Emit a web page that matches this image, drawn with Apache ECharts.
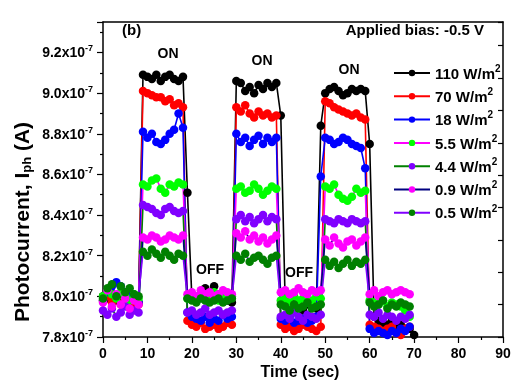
<!DOCTYPE html>
<html><head><meta charset="utf-8">
<script src="https://cdn.jsdelivr.net/npm/echarts@6/dist/echarts.min.js"></script>
<style>html,body{margin:0;padding:0;background:#fff}#c{width:511px;height:383px}</style>
</head><body><div id="c"></div>
<script>
// Time in seconds; photocurrent values in units of 1e-7 A
const time = [0,1,2,3,4,5,6,7,8,9,10,11,12,13,14,15,16,17,18,19,20,21,22,23,24,25,26,27,28,29,30,31,32,33,34,35,36,37,38,39,40,41,42,43,44,45,46,47,48,49,50,51,52,53,54,55,56,57,58,59,60,61,62,63,64,65,66,67,68,69,70];
const intensities = ['110','70','18','5.5','4.4','0.9','0.5'];

const i110 = [8.00,7.99,8.01,7.98,8.00,8.02,7.99,7.98,7.97,
  9.09,9.08,9.07,9.09,9.06,9.08,9.09,9.07,9.06,9.08, 8.51,
  7.99,7.98,8.00,8.04,8.02,8.05,8.01,7.99,7.98,7.97,
  9.06,9.05,9.01,9.03,9.00,9.04,9.02,9.05,9.03,9.05, 8.89,
  7.96,7.94,7.97,7.95,7.93,7.96,7.95,7.94, 8.84,
  9.00,9.02,9.03,9.01,8.99,9.00,9.02,9.01,9.02,9.01, 8.75,
  7.90,7.88,7.87,7.86,7.88,7.85,7.86,7.84,7.84,7.81];
const i70 = [7.98,8.00,7.97,7.99,7.96,7.98,7.97,7.95,7.96,
  9.01,9.00,8.99,8.98,8.98,8.96,8.97,8.94,8.95,8.93,
  7.88,7.86,7.85,7.87,7.84,7.85,7.86,7.84,7.85,7.87,7.86,
  8.93,8.91,8.94,8.90,8.88,8.91,8.89,8.90,8.88,8.89,
  7.86,7.84,7.85,7.83,7.84,7.86,7.85,7.84,7.83,7.85,
  8.96,8.95,8.93,8.92,8.91,8.90,8.89,8.90,8.88,8.87,
  7.86,7.85,7.84,7.83,7.84,7.85,7.82,7.81,7.84,7.85];
const i18 = [7.98,8.02,8.05,8.07,8.05,8.02,8.00,7.99,7.97,
  8.81,8.78,8.80,8.76,8.75,8.77,8.80,8.82,8.90,8.83,
  7.92,7.90,7.89,7.88,7.90,7.87,7.89,7.88,7.91,7.89,7.90,
  8.80,8.76,8.78,8.74,8.77,8.79,8.75,8.78,8.76,8.78,
  7.89,7.88,7.90,7.87,7.88,7.89,7.87,7.88,7.90, 8.59,
  8.78,8.77,8.75,8.76,8.78,8.77,8.75,8.74,8.73, 8.63,
  7.84,7.82,7.83,7.82,7.81,7.83,7.82,7.84,7.83,7.85];
const i5p5 = [8.00,8.03,8.01,7.99,8.02,8.00,7.98,8.01,7.99,
  8.55,8.54,8.57,8.58,8.53,8.51,8.55,8.54,8.56,8.55,
  7.99,8.00,7.98,8.01,7.99,8.00,8.02,7.98,7.99,8.01,8.00,
  8.53,8.54,8.51,8.52,8.55,8.53,8.50,8.52,8.54,8.53,
  7.98,7.99,7.97,8.00,7.98,7.99,7.97,7.98,8.00,7.99,
  8.54,8.53,8.55,8.50,8.48,8.47,8.49,8.53,8.51,8.52,
  7.98,7.97,7.96,7.98,7.95,7.97,7.96,7.95,7.93,7.90];
const i4p4 = [7.93,7.91,7.94,7.90,7.92,7.95,7.91,7.93,7.92,
  8.45,8.44,8.43,8.41,8.40,8.43,8.44,8.42,8.41,8.42,
  7.92,7.93,7.91,7.92,7.94,7.91,7.92,7.93,7.91,7.92,7.93,
  8.38,8.40,8.37,8.39,8.36,8.38,8.40,8.37,8.39,8.38,
  7.90,7.91,7.89,7.92,7.90,7.88,7.91,7.90,7.89,7.91,
  8.38,8.37,8.36,8.38,8.37,8.36,8.38,8.37,8.36,8.37,
  7.91,7.90,7.92,7.89,7.91,7.90,7.88,7.90,7.89,7.91];
const i0p9 = [7.97,8.03,7.95,8.01,7.96,7.99,7.94,7.98,7.96,
  8.29,8.28,8.30,8.29,8.27,8.28,8.30,8.29,8.28,8.30,
  8.01,8.02,8.00,8.03,8.01,8.02,8.00,8.01,8.03,8.02,8.01,
  8.31,8.29,8.32,8.28,8.30,8.27,8.29,8.26,8.28,8.30,
  8.02,8.03,8.01,8.02,8.04,8.02,8.01,8.03,8.02,8.03,
  8.28,8.25,8.29,8.26,8.24,8.27,8.28,8.25,8.27,8.29,
  8.01,8.03,8.00,8.02,8.03,8.01,8.02,8.03,8.02,8.01];
const i0p5 = [7.99,8.04,8.06,8.00,8.05,8.02,8.04,8.01,8.00,
  8.22,8.20,8.23,8.21,8.19,8.22,8.20,8.18,8.21,8.20,
  7.99,7.98,7.97,7.99,7.98,7.97,7.98,7.99,7.97,7.98,7.99,
  8.20,8.18,8.21,8.17,8.19,8.20,8.18,8.16,8.19,8.20,
  7.96,7.95,7.93,7.96,7.94,7.95,7.97,7.94,7.95,7.96,
  8.18,8.15,8.17,8.14,8.16,8.18,8.15,8.17,8.16,8.18,
  7.97,7.95,7.96,7.98,7.94,7.96,7.95,7.97,7.96,7.95];
const seriesValues = [i110, i70, i18, i5p5, i4p4, i0p9, i0p5];

const yTickLabels = [7.8, 8.0, 8.2, 8.4, 8.6, 8.8, 9.0, 9.2];
const xTickLabels = [0, 10, 20, 30, 40, 50, 60, 70, 80, 90];

const lineColors = ['#000000','#ff0000','#0000ff','#ff00ff','#008000','#000080','#8000ff'];
const markerColors = ['#000000','#ff0000','#0000ff','#00ff00','#8000ff','#ff00ff','#008000'];

const FF = '"Liberation Sans", Arial, sans-serif';
const chart = echarts.init(document.getElementById('c'), null, {renderer:'canvas'});

const series = intensities.map((name, i) => ({
  type: 'line', name,
  data: seriesValues[i].map((v, j) => [time[j], v]),
  symbol: 'circle', symbolSize: 8.5, showSymbol: true, showAllSymbol: true,
  lineStyle: {color: lineColors[i], width: 1.6},
  itemStyle: {color: markerColors[i], borderWidth: 0},
  emphasis: {disabled: true},
  animation: false
}));

const bold = (size, extra) => Object.assign({fontSize: size, fontWeight: 'bold', fontFamily: FF, color: '#000'}, extra || {});

chart.setOption({
  animation: false,
  backgroundColor: '#fff',
  grid: {left: 103, right: 8, top: 22, bottom: 46, outerBoundsMode: 'none'},
  xAxis: [{
    type: 'value', min: 0, max: 90, interval: 10, position: 'bottom',
    axisLine: {show: true, onZero: false, lineStyle: {color: '#000', width: 1.5}},
    axisTick: {show: true, inside: false, length: 6, lineStyle: {color: '#000', width: 1.2}},
    minorTick: {show: true, splitNumber: 2, length: 3, lineStyle: {color: '#000', width: 1.2}},
    splitLine: {show: false},
    axisLabel: {margin: 10, formatter: v => xTickLabels.includes(v) ? String(v) : '', ...bold(14)}
  }, {
    type: 'value', min: 0, max: 90, position: 'top',
    axisLine: {show: true, onZero: false, lineStyle: {color: '#000', width: 1.5}},
    axisTick: {show: false}, axisLabel: {show: false}, splitLine: {show: false}
  }],
  yAxis: [{
    type: 'value', min: 7.8, max: 9.35, interval: 0.2, position: 'left',
    axisLine: {show: true, onZero: false, lineStyle: {color: '#000', width: 1.5}},
    axisTick: {show: true, inside: false, length: 6, lineStyle: {color: '#000', width: 1.2}},
    minorTick: {show: true, splitNumber: 2, length: 3, lineStyle: {color: '#000', width: 1.2}},
    splitLine: {show: false},
    axisLabel: {
      margin: 10, showMaxLabel: false, showMinLabel: true,
      formatter: v => {
        const r = Math.round(v * 10) / 10;
        return yTickLabels.includes(r) && Math.abs(v - r) < 1e-6 ? '{a|' + r.toFixed(1) + 'x10}{s|-7}' : '';
      },
      rich: {
        a: bold(14, {lineHeight: 16, verticalAlign: 'bottom'}),
        s: bold(9, {lineHeight: 8, verticalAlign: 'top'})
      }
    }
  }, {
    type: 'value', min: 0, max: 9.73, interval: 1, position: 'right',
    axisLine: {show: true, onZero: false, lineStyle: {color: '#000', width: 1.5}},
    axisTick: {show: true, inside: true, length: 5, lineStyle: {color: '#000', width: 1.2}},
    axisLabel: {show: false}, splitLine: {show: false}
  }],
  legend: {
    orient: 'vertical', left: 388, top: 59, itemWidth: 36, itemHeight: 8, itemGap: 5.3,
    data: intensities, selectedMode: false,
    formatter: name => '{a|' + name + ' W/m}{s|2}',
    textStyle: {
      rich: {
        a: bold(15, {lineHeight: 18, verticalAlign: 'bottom'}),
        s: bold(10, {lineHeight: 9, verticalAlign: 'top'})
      }
    }
  },
  graphic: [
    {type: 'text', x: 122, y: 31, style: {text: '(b)', ...bold(15), align: 'left', verticalAlign: 'middle'}},
    {type: 'text', x: 484, y: 31, style: {text: 'Applied bias: -0.5 V', ...bold(15), align: 'right', verticalAlign: 'middle'}},
    {type: 'text', x: 168, y: 54, style: {text: 'ON', ...bold(14), align: 'center', verticalAlign: 'middle'}},
    {type: 'text', x: 262, y: 61, style: {text: 'ON', ...bold(14), align: 'center', verticalAlign: 'middle'}},
    {type: 'text', x: 349, y: 70, style: {text: 'ON', ...bold(14), align: 'center', verticalAlign: 'middle'}},
    {type: 'text', x: 210, y: 270, style: {text: 'OFF', ...bold(14), align: 'center', verticalAlign: 'middle'}},
    {type: 'text', x: 299, y: 273, style: {text: 'OFF', ...bold(14), align: 'center', verticalAlign: 'middle'}},
    {type: 'text', x: 300, y: 373, style: {text: 'Time (sec)', ...bold(16), align: 'center', verticalAlign: 'middle'}},
    {type: 'text', x: 22, y: 222, rotation: Math.PI / 2, style: {
      text: '{a|Photocurrent, I}{b|ph}{a| (A)}', align: 'center', verticalAlign: 'middle',
      rich: {
        a: bold(21, {lineHeight: 24, verticalAlign: 'bottom'}),
        b: bold(13, {lineHeight: 6, verticalAlign: 'bottom'})
      }
    }}
  ],
  series
});
</script>
</body></html>
